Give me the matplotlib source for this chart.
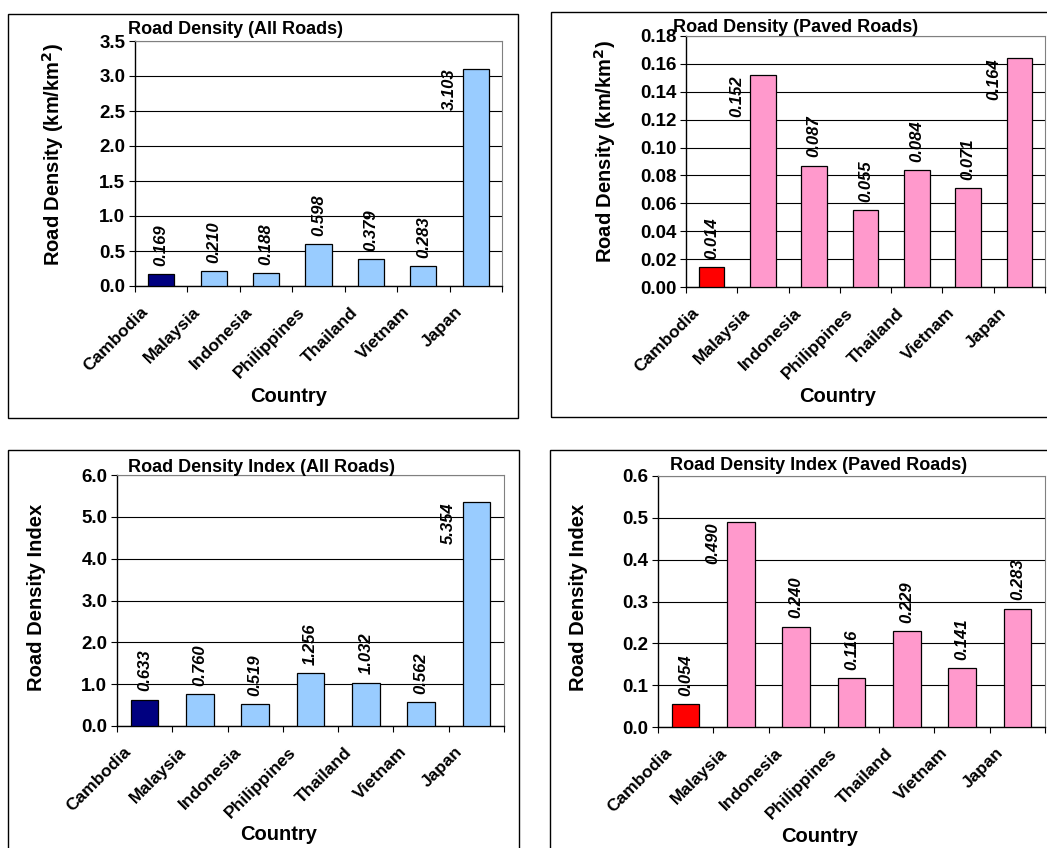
import matplotlib
matplotlib.use("Agg")
import matplotlib.pyplot as plt
import matplotlib.patches as mpatches
from matplotlib.ticker import FormatStrFormatter, FixedLocator

plt.rcParams['font.family'] = ['Liberation Sans', 'DejaVu Sans']

countries = ['Cambodia', 'Malaysia', 'Indonesia', 'Philippines', 'Thailand', 'Vietnam', 'Japan']

density_all = [0.169, 0.210, 0.188, 0.598, 0.379, 0.283, 3.103]
density_paved = [0.014, 0.152, 0.087, 0.055, 0.084, 0.071, 0.164]
index_all = [0.633, 0.760, 0.519, 1.256, 1.032, 0.562, 5.354]
index_paved = [0.054, 0.490, 0.240, 0.116, 0.229, 0.141, 0.283]

W, H = 1047, 848
fig = plt.figure(figsize=(W / 100, H / 100), dpi=100)


def px_rect(left, top, right, bottom):
    # pixel box (origin top-left) -> figure fraction [x, y, w, h]
    return [left / W, 1 - bottom / H, (right - left) / W, (bottom - top) / H]


def draw_panel(box, area, vals, ymax, ystep, fmt, colors, title, title_xy,
               ylabel, ylabel_xy, xlabel_xy):
    bx = px_rect(*box)
    fig.patches.append(mpatches.Rectangle((bx[0], bx[1]), bx[2], bx[3],
                                          transform=fig.transFigure, fill=False,
                                          edgecolor='black', linewidth=1.0))
    ax = fig.add_axes(px_rect(*area))
    x = range(len(vals))
    ax.bar(x, vals, width=0.5, color=colors, edgecolor='black', linewidth=0.9, zorder=3)
    ax.set_xlim(-0.5, len(vals) - 0.5)
    ax.set_ylim(0, ymax)
    n = int(round(ymax / ystep))
    ax.set_yticks([i * ystep for i in range(n + 1)])
    ax.yaxis.set_major_formatter(FormatStrFormatter(fmt))
    ax.grid(axis='y', color='black', linewidth=0.8, zorder=0)
    ax.set_axisbelow(True)

    # slanted names sit left of each bar centre, below the axis
    ax.set_xticks([i - 0.3 for i in x])
    ax.set_xticklabels(countries, rotation=45, ha='right', va='center',
                       rotation_mode='anchor', fontsize=12.5, fontweight='bold')
    ax.xaxis.set_minor_locator(FixedLocator([i - 0.5 for i in range(len(vals) + 1)]))
    ax.tick_params(axis='x', which='major', length=0, pad=17)
    ax.tick_params(axis='x', which='minor', length=4, width=0.8, direction='out')
    ax.tick_params(axis='y', length=4, width=0.8, direction='out', pad=3)
    for lab in ax.get_yticklabels():
        lab.set_fontsize(13.5)
        lab.set_fontweight('bold')

    for side in ['top', 'right']:
        ax.spines[side].set_color('#808080')
    for side in ['left', 'bottom']:
        ax.spines[side].set_color('black')
        ax.spines[side].set_linewidth(1.0)

    # value labels: above the bar, or beside it when there is no room left
    ax_h = (area[3] - area[1])
    room = (9 + 42) / ax_h * ymax
    for i, v in enumerate(vals):
        s = '%.3f' % v
        if v + room > ymax:
            ax.text(i - 0.5, v, s, rotation=90, ha='center', va='top',
                    fontsize=12, fontweight='bold', fontstyle='italic', zorder=4)
        else:
            ax.annotate(s, (i, v), xytext=(0, 6), textcoords='offset points',
                        rotation=90, ha='center', va='bottom',
                        fontsize=12, fontweight='bold', fontstyle='italic', zorder=4)

    fig.text(title_xy[0] / W, 1 - title_xy[1] / H, title, ha='left', va='center',
             fontsize=13, fontweight='bold')
    fig.text(ylabel_xy[0] / W, 1 - ylabel_xy[1] / H, ylabel, rotation=90,
             ha='center', va='center', fontsize=14.5, fontweight='bold')
    fig.text(xlabel_xy[0] / W, 1 - xlabel_xy[1] / H, 'Country',
             ha='center', va='center', fontsize=14.5, fontweight='bold')
    return ax


blue = ['#000080'] + ['#99CCFF'] * 6
pink = ['#FF0000'] + ['#FF99CC'] * 6

draw_panel((8, 14, 518, 418), (135, 41, 502, 286), density_all, 3.5, 0.5, '%.1f',
           blue, 'Road Density (All Roads)', (128, 30),
           'Road Density (km/km$^\\mathbf{2}$)', (53, 155), (289, 397))
draw_panel((551, 12, 1070, 417), (686, 36, 1045, 287), density_paved, 0.18, 0.02, '%.2f',
           pink, 'Road Density (Paved Roads)', (673, 27),
           'Road Density (km/km$^\\mathbf{2}$)', (605, 152), (838, 397))
draw_panel((8, 450, 519, 870), (117, 475, 504, 726), index_all, 6.0, 1.0, '%.1f',
           blue, 'Road Density Index (All Roads)', (128, 467),
           'Road Density Index', (37, 597), (279, 835))
draw_panel((550, 450, 1070, 870), (658, 476, 1045, 727), index_paved, 0.6, 0.1, '%.1f',
           pink, 'Road Density Index (Paved Roads)', (670, 466),
           'Road Density Index', (578, 597), (820, 837))

fig.savefig('out.png', dpi=100)
